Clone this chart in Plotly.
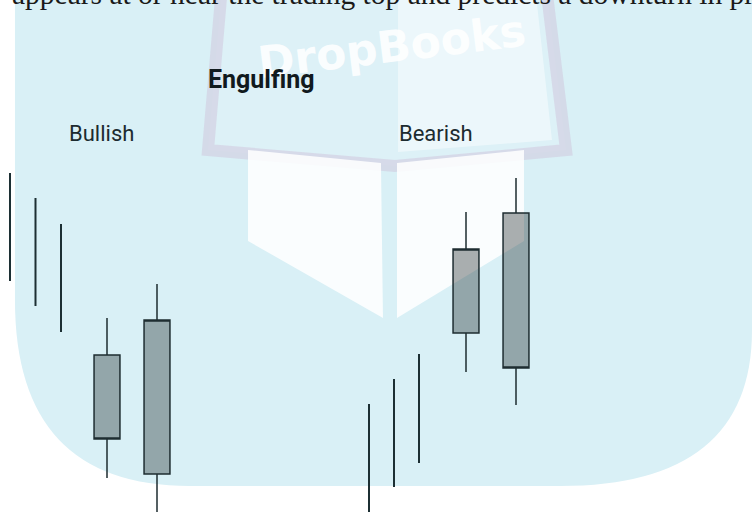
import plotly.graph_objects as go

W, H = 752, 512

# engulfing candles (price units)
candle_x = [10.7, 15.7, 46.6, 51.6]
candle_open = [15.7, 3.8, 17.9, 29.9]
candle_high = [19.4, 22.8, 30.0, 33.4]
candle_low = [3.4, -2.0, 14.0, 10.7]
candle_close = [7.3, 19.2, 26.3, 14.4]

# preceding trend, drawn as plain high-low lines
trend_x = [1.0, 3.55, 6.1, 36.9, 39.4, 41.9]
trend_high = [33.9, 31.4, 28.8, 10.8, 13.3, 15.8]
trend_low = [23.1, 20.6, 18.0, -1.5, 2.5, 4.9]

body_text = "appears at or near the trading top and predicts a downturn in price"
title = "Engulfing"
labels = ["Bullish", "Bearish"]


def pt(x, y):
    # pixel -> paper coords for decoration shapes
    return f"{x / W:.4f},{1 - y / H:.4f}"


def path(points, close=True):
    s = "M " + " L ".join(pt(x, y) for x, y in points)
    return s + (" Z" if close else "")


# high-low segments, separated by None
seg_x, seg_y = [], []
for x, hi, lo in zip(trend_x, trend_high, trend_low):
    seg_x += [x, x, None]
    seg_y += [lo, hi, None]

fig = go.Figure()

fig.add_trace(go.Scatter(
    x=seg_x, y=seg_y, mode="lines",
    line=dict(color="#1c2f33", width=2),
    hoverinfo="skip", showlegend=False,
))

style = dict(line=dict(color="#1e2d31", width=1.5), fillcolor="rgba(0,10,10,0.32)")
fig.add_trace(go.Candlestick(
    x=candle_x, open=candle_open, high=candle_high, low=candle_low, close=candle_close,
    increasing=style, decreasing=style, whiskerwidth=0, showlegend=False,
))

# background tint + faint book watermark
bg = (f"M {pt(15, 0)} L {pt(752, 0)} L {pt(752, 330)} Q {pt(752, 486)} {pt(560, 486)} "
      f"L {pt(190, 486)} Q {pt(15, 486)} {pt(15, 300)} Z")
shapes = [
    dict(type="path", path=bg, xref="paper", yref="paper", layer="below",
         fillcolor="#d9f0f6", line=dict(width=0)),
    dict(type="path", path=path([(222, -14), (546, -14), (566, 150), (395, 166), (208, 150)]),
         xref="paper", yref="paper", layer="below",
         fillcolor="rgba(255,255,255,0.12)", line=dict(color="rgba(205,185,212,0.4)", width=12)),
    dict(type="path", path=path([(398, -5), (536, -5), (552, 140), (398, 152)]),
         xref="paper", yref="paper", layer="below",
         fillcolor="rgba(255,255,255,0.45)", line=dict(width=0)),
    dict(type="path", path=path([(248, 150), (381, 163), (383, 318), (248, 241)]),
         xref="paper", yref="paper", layer="below",
         fillcolor="rgba(255,255,255,0.85)", line=dict(width=0)),
    dict(type="path", path=path([(397, 163), (524, 150), (524, 241), (397, 318)]),
         xref="paper", yref="paper", layer="below",
         fillcolor="rgba(255,255,255,0.85)", line=dict(width=0)),
]

annotations = [
    dict(text="<b>DropBooks</b>", x=391 / W, y=1 - 46 / H, xref="paper", yref="paper",
         xanchor="center", yanchor="middle", showarrow=False, textangle=-7,
         font=dict(family="DejaVu Sans", size=44, color="rgba(255,255,255,0.9)")),
    dict(text=body_text, x=10 / W, y=1.012, xref="paper", yref="paper",
         xanchor="left", yanchor="middle", showarrow=False,
         font=dict(family="Liberation Serif", size=29.5, color="#1a1a1a")),
    dict(text=f"<b>{title}</b>", x=26.15, y=43.3, showarrow=False,
         font=dict(family="Liberation Sans Narrow, Roboto", size=25, color="#111a1e")),
    dict(text=labels[0], x=10.15, y=37.9, showarrow=False,
         font=dict(family="Roboto", size=22, color="#1c2b30")),
    dict(text=labels[1], x=43.55, y=37.9, showarrow=False,
         font=dict(family="Roboto", size=22, color="#1c2b30")),
]

fig.update_layout(
    width=W, height=H,
    margin=dict(l=0, r=0, t=0, b=0),
    paper_bgcolor="white", plot_bgcolor="rgba(0,0,0,0)",
    boxgap=0.26, boxgroupgap=0.3,
    shapes=shapes, annotations=annotations,
    xaxis=dict(range=[0, 75.2], visible=False, rangeslider=dict(visible=False), fixedrange=True),
    yaxis=dict(range=[0, 51.2], visible=False, fixedrange=True),
)

fig.write_html("out.html", config={"displayModeBar": False},
               post_script="document.body.style.margin = '0';")
